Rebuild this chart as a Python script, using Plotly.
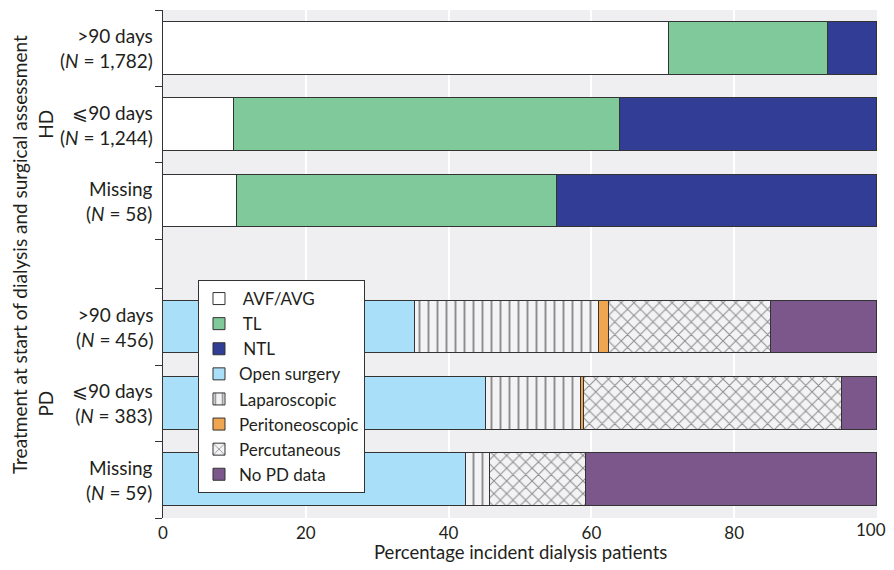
import plotly.graph_objects as go

# bar positions (slot units, top = 0) and labels
hd_pos = [0.5, 1.5, 2.5]
pd_pos = [4.147, 5.147, 6.147]
hd_labels = [">90 days<br>(<i>N</i> = 1,782)", "⩽90 days<br>(<i>N</i> = 1,244)", "Missing<br>(<i>N</i> = 58)"]
pd_labels = [">90 days<br>(<i>N</i> = 456)", "⩽90 days<br>(<i>N</i> = 383)", "Missing<br>(<i>N</i> = 59)"]
boundaries = [0, 1, 2, 3, 3.647, 4.647, 5.647, 6.647]
x_ticks = [0, 20, 40, 60, 80]

# HD segments (%)
avf_avg = [70.9, 9.9, 10.4]
tl = [22.2, 54.1, 44.8]
ntl = [6.9, 36.0, 44.8]

# PD segments (%)
open_surgery = [35.3, 45.2, 42.4]
laparoscopic = [25.7, 13.3, 3.4]
peritoneoscopic = [1.5, 0.5, 0.0]
percutaneous = [22.6, 36.1, 13.5]
no_pd_data = [14.9, 4.9, 40.7]

FONT = "Lato"
TXT = "#231f20"
EDGE = "#333333"
BG = "#efeff1"
NB = "\u00a0"

fig = go.Figure()

def add(name, pos, vals, color, shape=""):
    pattern = dict(shape=shape, fgcolor="#2a2a2a", bgcolor=color, size=9, solidity=0.22) if shape else None
    fig.add_trace(go.Bar(
        name=name, y=pos, x=vals, orientation="h", width=0.69,
        marker=dict(color=color, line=dict(color=EDGE, width=1), pattern=pattern),
    ))

add(NB + "AVF/AVG", hd_pos, avf_avg, "#ffffff")
add(NB + "TL", hd_pos, tl, "#80c99a")
add(NB + "NTL", hd_pos, ntl, "#323d96")
add("Open surgery", pd_pos, open_surgery, "#a9dff8")
add("Laparoscopic", pd_pos, laparoscopic, "#f3f3f5", "|")
add("Peritoneoscopic", pd_pos, peritoneoscopic, "#f0a550")
add("Percutaneous", pd_pos, percutaneous, "#f3f3f5", "x")
add("No PD data", pd_pos, no_pd_data, "#7b578c")

# category labels
for p, t in zip(hd_pos + pd_pos, hd_labels + pd_labels):
    fig.add_annotation(x=-0.011, y=p, xref="paper", yref="y", text=t, showarrow=False,
                       xanchor="right", align="right", font=dict(size=19, color=TXT, family=FONT))

for txt, p in [("HD", 1.5), ("PD", 5.147)]:
    fig.add_annotation(x=-0.165, y=p, xref="paper", yref="y", text=txt, textangle=-90,
                       xanchor="center", yanchor="middle",
                       showarrow=False, font=dict(size=19, color=TXT, family=FONT))
fig.add_annotation(x=-0.2, y=0.518, xref="paper", yref="paper",
                   text="Treatment at start of dialysis and surgical assessment", textangle=-90,
                   xanchor="center", yanchor="middle",
                   showarrow=False, font=dict(size=19, color=TXT, family=FONT))
fig.add_annotation(x=0.5, y=-0.067, xref="paper", yref="paper",
                   text="Percentage incident dialysis patients",
                   xanchor="center", yanchor="middle",
                   showarrow=False, font=dict(size=18.5, color=TXT, family=FONT))
# last tick label nudged left so it is not cut at the window edge
fig.add_annotation(x=100, y=-0.0235, xref="x", yref="paper", text="100", xshift=-6,
                   xanchor="center", yanchor="middle",
                   showarrow=False, font=dict(size=17, color=TXT, family=FONT))

# page has an 8px body margin, so the figure is shrunk to avoid scrollbars
fig.update_layout(
    barmode="stack",
    width=886, height=554,
    margin=dict(l=155, r=17, t=2, b=44),
    paper_bgcolor="white", plot_bgcolor=BG,
    font=dict(family=FONT, size=19, color=TXT),
    bargap=0,
    legend=dict(x=0.049, y=0.4685, xanchor="left", yanchor="top", traceorder="normal",
                bgcolor="white", bordercolor=EDGE, borderwidth=1,
                font=dict(size=17, color=TXT, family=FONT), tracegroupgap=0,
                itemwidth=30),
    xaxis=dict(range=[0, 100], tickvals=x_ticks, showgrid=True,
               gridcolor="white", gridwidth=2, zeroline=False, showline=False, ticks="",
               automargin=False, ticklabelstandoff=3,
               tickfont=dict(size=17, color=TXT, family=FONT)),
    yaxis=dict(range=[6.647, 0], tickvals=boundaries, ticktext=[""] * len(boundaries),
               ticks="outside", ticklen=7, tickcolor=EDGE, showgrid=False, zeroline=False,
               automargin=False,
               showline=True, linecolor=EDGE, linewidth=1, showticklabels=False),
)

fig.write_html("out.html")
